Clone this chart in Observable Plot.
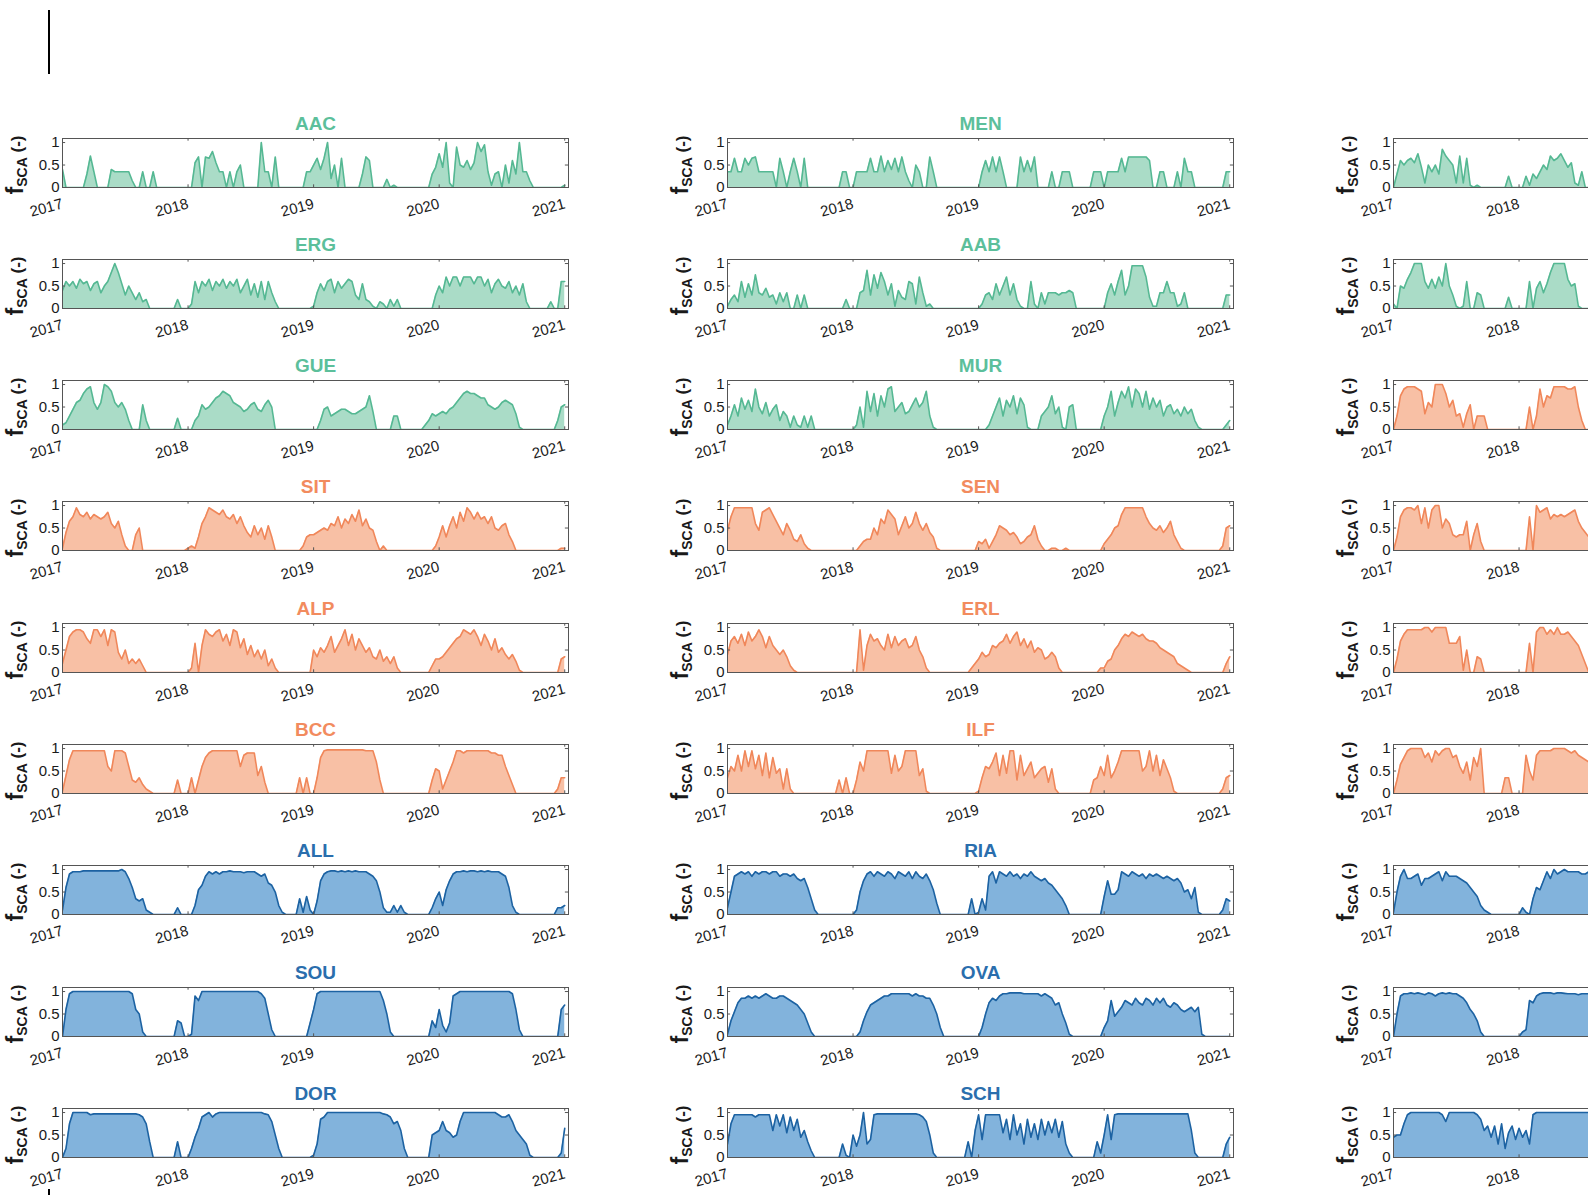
<!DOCTYPE html>
<html><head><meta charset="utf-8">
<script src="https://cdn.jsdelivr.net/npm/d3@7"></script>
<script src="https://cdn.jsdelivr.net/npm/@observablehq/plot@0.6"></script>
<style>
html,body{margin:0;padding:0;background:#fff;}
#root{position:relative;width:1588px;height:1195px;overflow:hidden;font-family:"Liberation Sans",Arial,Helvetica,sans-serif;}
.panel{position:absolute;width:588px;}
.ylab{position:absolute;transform:translate(-50%,-50%) rotate(-90deg);white-space:nowrap;font-weight:bold;color:#1a1a1a;font-size:17px;line-height:1;}
.ylab .f{font-size:23px;}
.ylab sub{font-size:14px;vertical-align:-4px;}
.deco{position:absolute;background:#000;width:2px;}
</style></head><body><div id="root"></div>
<script>
// ---- tick labels ----
const years = [2017, 2018, 2019, 2020, 2021];
const yTicks = [0, 0.5, 1];

// ---- fSCA series: one row per year (values ~every 10 days) ----
const AAC = [
 [0.4,0,0,0,0,0, 0,0.3,0.7,0.35,0,0, 0,0,0.4,0.35,0.35,0.35, 0.35,0.35,0.15,0,0,0.35, 0,0,0.35,0,0,0, 0,0,0,0,0,0],
 [0,0,0.55,0.68,0,0.68, 0.65,0.8,0.55,0.35,0.35,0, 0.35,0,0.35,0.5,0,0, 0,0,0,1.0,0.35,0.35, 0,0.68,0,0,0,0, 0,0,0,0,0.35,0.35],
 [0.5,0.65,0.4,0.65,1.0,0.2, 0.5,0,0.65,0,0,0, 0,0,0.3,0.68,0.6,0, 0,0,0,0.18,0,0.05, 0,0,0,0,0,0, 0,0,0,0,0.3,0.45],
 [0.75,0.45,1.0,0.1,0,0.9, 0.5,0.45,0.6,0.4,0.55,1.0, 0.8,0.95,0.35,0.05,0.3,0.35, 0,0.5,0.1,0.6,0.3,1.0, 0.35,0.35,0.15,0,0,0, 0,0,0,0,0,0],
 [0.05]];
const MEN = [
 [0.35,0.35,0.65,0.35,0.35,0.65, 0.5,0.65,0.68,0.35,0.35,0.35, 0.35,0.35,0,0.65,0.35,0, 0.35,0.65,0.35,0,0.65,0, 0,0,0,0,0,0, 0,0,0,0.35,0.35,0],
 [0,0.35,0.35,0.35,0.35,0.65, 0.35,0.35,0.7,0.35,0.6,0.4, 0.65,0.35,0.68,0.35,0.15,0, 0.5,0.35,0,0,0.68,0.35, 0,0,0,0,0,0, 0,0,0,0,0,0],
 [0,0.35,0.6,0.35,0.68,0.35, 0.68,0.35,0,0,0,0, 0.68,0.35,0.6,0.35,0.68,0, 0,0,0,0.35,0,0, 0.35,0.35,0.35,0,0,0, 0,0,0,0.35,0.35,0.35],
 [0,0.35,0.35,0.35,0.35,0.65, 0.35,0.68,0.68,0.68,0.68,0.68, 0.68,0.6,0,0,0.35,0.35, 0,0,0,0.35,0,0.65, 0.35,0.35,0,0,0,0, 0,0,0,0,0,0.35],
 [0.35]];
const ERG = [
 [0.4,0.6,0.5,0.6,0.45,0.65, 0.55,0.6,0.4,0.55,0.6,0.35, 0.5,0.6,0.8,1.0,0.8,0.55, 0.3,0.5,0.35,0.2,0.35,0.15, 0.2,0,0,0,0,0, 0,0,0,0.2,0,0],
 [0,0.1,0.6,0.35,0.6,0.5, 0.65,0.4,0.6,0.5,0.65,0.45, 0.6,0.5,0.65,0.35,0.5,0.65, 0.3,0.55,0.25,0.6,0.2,0.6, 0.35,0.15,0,0,0,0, 0,0,0,0,0,0],
 [0.05,0.35,0.55,0.4,0.6,0.65, 0.35,0.6,0.45,0.55,0.65,0.6, 0.3,0.2,0.55,0.2,0.15,0.05, 0,0.15,0.1,0,0.2,0.05, 0.2,0,0,0,0,0, 0,0,0,0,0,0.3],
 [0.5,0.35,0.7,0.5,0.7,0.7, 0.5,0.7,0.7,0.7,0.55,0.7, 0.7,0.5,0.65,0.35,0.55,0.65, 0.5,0.45,0.6,0.35,0.5,0.3, 0.55,0.15,0,0,0,0, 0,0,0.15,0,0,0.6],
 [0.6]];
const GUE = [
 [0.1,0.15,0.3,0.45,0.6,0.65, 0.8,0.9,0.95,0.6,0.45,0.6, 1.0,0.95,0.85,0.6,0.5,0.6, 0.45,0.2,0,0,0,0.55, 0.2,0,0,0,0,0, 0,0,0,0.25,0,0],
 [0,0,0.2,0.3,0.55,0.45, 0.5,0.6,0.7,0.75,0.85,0.8, 0.75,0.6,0.55,0.5,0.4,0.45, 0.55,0.6,0.45,0.4,0.55,0.65, 0.5,0,0,0,0,0, 0,0,0,0,0,0],
 [0,0,0.2,0.45,0.5,0.3, 0.35,0.4,0.45,0.45,0.4,0.35, 0.35,0.4,0.45,0.5,0.75,0.4, 0,0,0,0,0,0.3, 0.3,0,0,0,0,0, 0,0,0.1,0.2,0.35,0.3],
 [0.35,0.4,0.35,0.45,0.5,0.6, 0.7,0.8,0.85,0.8,0.8,0.75, 0.7,0.7,0.55,0.5,0.45,0.5, 0.6,0.65,0.6,0.55,0.35,0.05, 0,0,0,0,0,0, 0,0,0,0,0.2,0.5],
 [0.55]];
const SIT = [
 [0.05,0.4,0.65,0.75,0.95,0.8, 0.75,0.85,0.7,0.8,0.75,0.7, 0.75,0.85,0.6,0.5,0.65,0.35, 0.1,0,0,0.35,0.5,0, 0,0,0,0,0,0, 0,0,0,0,0,0],
 [0.05,0.1,0.05,0.3,0.6,0.75, 0.95,0.9,0.85,0.8,0.9,0.75, 0.7,0.8,0.6,0.75,0.55,0.4, 0.3,0.55,0.35,0.5,0.25,0.55, 0.3,0,0,0,0,0, 0,0,0,0.1,0.3,0.35],
 [0.35,0.4,0.45,0.5,0.45,0.6, 0.55,0.75,0.5,0.7,0.6,0.8, 0.65,0.9,0.55,0.7,0.5,0.45, 0.2,0,0.1,0,0,0, 0,0,0,0,0,0, 0,0,0,0,0,0.1],
 [0.3,0.55,0.3,0.55,0.75,0.5, 0.85,0.65,0.95,0.85,0.7,0.85, 0.7,0.75,0.6,0.75,0.5,0.45, 0.55,0.6,0.35,0.2,0,0, 0,0,0,0,0,0, 0,0,0,0,0,0.05],
 [0.05]];
const ALP = [
 [0.2,0.5,0.8,0.9,0.95,0.95, 0.9,0.75,0.65,0.95,0.95,0.8, 0.95,0.6,0.95,0.9,0.45,0.3, 0.5,0.2,0.3,0.2,0.3,0.15, 0,0,0,0,0,0, 0,0,0,0,0,0],
 [0,0.1,0.65,0,0.6,0.95, 0.85,0.8,0.9,0.95,0.7,0.85, 0.6,0.95,0.9,0.55,0.75,0.4, 0.6,0.35,0.5,0.3,0.5,0.15, 0.3,0.1,0,0,0,0, 0,0,0,0,0,0],
 [0.5,0.35,0.55,0.45,0.6,0.8, 0.45,0.6,0.75,0.95,0.6,0.85, 0.5,0.75,0.6,0.45,0.55,0.35, 0.3,0.5,0.25,0.35,0.2,0.35, 0.1,0,0,0,0,0, 0,0,0,0,0.15,0.3],
 [0.3,0.35,0.45,0.55,0.65,0.75, 0.8,0.95,0.9,0.85,0.95,0.8, 0.6,0.85,0.7,0.5,0.75,0.45, 0.55,0.4,0.3,0.4,0.25,0.05, 0,0,0,0,0,0, 0,0,0,0,0,0.3],
 [0.35]];
const BCC = [
 [0.05,0.4,0.75,0.95,0.95,0.95, 0.95,0.95,0.95,0.95,0.95,0.95, 0.95,0.6,0.5,0.95,0.95,0.95, 0.9,0.6,0.3,0.25,0.35,0.2, 0.1,0.05,0,0,0,0, 0,0,0,0.3,0,0],
 [0,0.35,0,0.3,0.6,0.8, 0.9,0.95,0.95,0.95,0.95,0.95, 0.95,0.95,0.95,0.6,0.85,0.9, 0.9,0.9,0.4,0.6,0.25,0, 0,0,0,0,0,0, 0,0,0.35,0,0.35,0],
 [0,0.35,0.8,0.95,0.97,0.97, 0.97,0.97,0.97,0.97,0.97,0.97, 0.97,0.97,0.97,0.95,0.95,0.95, 0.7,0.3,0,0,0,0, 0,0,0,0,0,0, 0,0,0,0,0.3,0.55],
 [0.5,0.1,0.3,0.5,0.7,0.95, 0.95,0.9,0.95,0.95,0.95,0.95, 0.95,0.95,0.95,0.9,0.9,0.85, 0.85,0.6,0.4,0.2,0,0, 0,0,0,0,0,0, 0,0,0,0,0.1,0.35],
 [0.35]];
const ALL = [
 [0.1,0.6,0.9,0.95,0.95,0.95, 0.97,0.97,0.97,0.97,0.97,0.97, 0.97,0.97,0.97,0.97,0.97,1, 0.95,0.8,0.6,0.35,0.3,0.35, 0.1,0.05,0,0,0,0, 0,0,0,0.15,0,0],
 [0,0,0.2,0.55,0.65,0.85, 0.95,0.9,0.95,0.9,0.95,0.95, 0.97,0.95,0.95,0.95,0.93,0.95, 0.95,0.95,0.9,0.85,0.9,0.7, 0.65,0.5,0.2,0.05,0,0, 0,0,0.35,0.05,0.4,0.1],
 [0,0.3,0.75,0.9,0.95,0.97, 0.97,0.95,0.97,0.95,0.97,0.95, 0.97,0.95,0.95,0.95,0.9,0.85, 0.75,0.5,0.15,0.05,0.05,0.2, 0.05,0.2,0.05,0,0,0, 0,0,0,0,0.15,0.35],
 [0.5,0.2,0.55,0.75,0.9,0.95, 0.95,0.97,0.95,0.97,0.97,0.95, 0.97,0.95,0.97,0.95,0.95,0.95, 0.9,0.85,0.6,0.2,0.05,0, 0,0,0,0,0,0, 0,0,0,0,0.15,0.15],
 [0.2]];
const SOU = [
 [0,0.6,0.95,1,1,1, 1,1,1,1,1,1, 1,1,1,1,1,1, 1,1,0.95,0.6,0.5,0.1, 0,0,0,0,0,0, 0,0,0,0.35,0.3,0],
 [0,0.05,0.9,0.8,1,1, 1,1,1,1,1,1, 1,1,1,1,1,1, 1,1,1,0.95,0.85,0.5, 0.15,0,0,0,0,0, 0,0,0,0,0,0.3],
 [0.6,0.95,1,1,1,1, 1,1,1,1,1,1, 1,1,1,1,1,1, 1,1,0.8,0.5,0.1,0, 0,0,0,0,0,0, 0,0,0,0,0.35,0.2],
 [0.6,0.25,0.1,0.3,0.9,0.95, 1,1,1,1,1,1, 1,1,1,1,1,1, 1,1,1,0.95,0.6,0.15, 0,0,0,0,0,0, 0,0,0,0,0,0.6],
 [0.7]];
const DOR = [
 [0,0.2,0.75,1,1,1, 1,1,0.95,0.97,0.97,0.97, 0.97,0.97,0.97,0.97,0.97,0.97, 0.97,0.97,0.97,0.97,0.95,0.9, 0.75,0.35,0,0,0,0, 0,0,0,0.35,0,0],
 [0,0.2,0.45,0.65,0.9,0.95, 1,0.9,0.97,1,1,1, 1,1,1,1,1,1, 1,1,1,1,0.97,0.95, 0.8,0.5,0.2,0,0,0, 0,0,0,0,0,0],
 [0.05,0.3,0.85,0.9,1,1, 1,1,1,1,1,1, 1,1,1,1,1,1, 1,1,0.97,0.95,0.9,0.75, 0.8,0.6,0.2,0,0,0, 0,0,0,0,0.5,0.55],
 [0.6,0.8,0.6,0.55,0.45,0.5, 0.8,1,1,1,1,1, 1,1,1,1,1,0.95, 0.9,0.9,0.95,0.8,0.6,0.5, 0.4,0.3,0.05,0,0,0, 0,0,0,0,0,0.1],
 [0.65]];
const AAB = [
 [0.05,0.2,0.3,0.15,0.6,0.25, 0.55,0.3,0.75,0.35,0.3,0.45, 0.25,0.3,0.1,0.35,0.15,0.35, 0,0,0.3,0,0.3,0, 0,0,0,0,0,0, 0,0,0,0,0.2,0],
 [0,0,0.35,0.4,0.85,0.3, 0.75,0.45,0.8,0.6,0.3,0.55, 0.05,0.4,0.25,0.2,0.6,0.55, 0.1,0.7,0.35,0.05,0.1,0, 0,0,0,0,0,0, 0,0,0,0,0,0],
 [0,0.1,0.3,0.35,0.2,0.55, 0.3,0.5,0.7,0.3,0.55,0.2, 0.05,0,0,0.6,0.1,0, 0.35,0.1,0.35,0.35,0.35,0.3, 0.35,0.35,0.4,0.35,0,0, 0,0,0,0,0,0],
 [0,0.35,0.55,0.3,0.6,0.85, 0.3,0.5,0.95,0.95,0.95,0.95, 0.7,0.25,0.05,0.05,0.35,0.35, 0.6,0.35,0.35,0.05,0.1,0.35, 0,0,0,0,0,0, 0,0,0,0,0,0.3],
 [0.3]];
const MUR = [
 [0.1,0.3,0.55,0.3,0.7,0.45, 0.65,0.4,0.9,0.5,0.35,0.6, 0.3,0.45,0.55,0.2,0.4,0.3, 0.05,0.3,0.1,0.05,0.3,0.05, 0.3,0,0,0,0,0, 0,0,0,0,0,0],
 [0,0.1,0.5,0.05,0.85,0.4, 0.8,0.3,0.75,0.5,0.9,0.95, 0.4,0.5,0.6,0.35,0.4,0.55, 0.7,0.5,0.6,0.85,0.3,0.05, 0,0,0,0,0,0, 0,0,0,0,0,0],
 [0,0,0,0.1,0.3,0.5, 0.7,0.3,0.65,0.5,0.75,0.35, 0.7,0.55,0.05,0,0,0, 0.3,0.4,0.5,0.75,0.35,0.5, 0.05,0,0.5,0.55,0,0, 0,0,0,0,0,0],
 [0.3,0.5,0.85,0.3,0.6,0.85, 0.7,0.95,0.5,0.9,0.8,0.5, 0.85,0.45,0.7,0.5,0.65,0.3, 0.5,0.55,0.35,0.45,0.3,0.5, 0.35,0.45,0.2,0.05,0,0, 0,0,0,0,0,0.1],
 [0.2]];
const SEN = [
 [0.45,0.75,0.95,0.95,0.95,0.95, 0.95,0.95,0.6,0.45,0.85,0.9, 0.95,0.8,0.65,0.5,0.35,0.6, 0.45,0.25,0.2,0.35,0.15,0.05, 0,0,0,0,0,0, 0,0,0,0,0,0],
 [0,0,0.1,0.2,0.25,0.25, 0.5,0.35,0.7,0.6,0.9,0.8, 0.7,0.35,0.55,0.75,0.5,0.6, 0.85,0.6,0.45,0.6,0.4,0.3, 0.05,0,0,0,0,0, 0,0,0,0,0,0],
 [0.2,0.15,0.25,0.05,0.2,0.35, 0.55,0.5,0.45,0.35,0.4,0.3, 0.15,0.2,0.3,0.35,0.55,0.25, 0.1,0,0,0.05,0.05,0, 0,0.05,0,0,0,0, 0,0,0,0,0,0],
 [0.15,0.25,0.35,0.5,0.55,0.8, 0.95,0.95,0.95,0.95,0.95,0.95, 0.75,0.6,0.5,0.45,0.55,0.4, 0.5,0.65,0.35,0.2,0.05,0, 0,0,0,0,0,0, 0,0,0,0,0.1,0.5],
 [0.55]];
const ERL = [
 [0.4,0.7,0.8,0.65,0.85,0.6, 0.9,0.7,0.8,0.95,0.8,0.55, 0.8,0.6,0.5,0.4,0.5,0.35, 0.15,0.05,0,0,0,0, 0,0,0,0,0,0, 0,0,0,0,0,0],
 [0,0,0.95,0.05,0.6,0.85, 0.7,0.75,0.6,0.5,0.85,0.55, 0.8,0.6,0.7,0.75,0.55,0.6, 0.8,0.5,0.35,0.1,0,0, 0,0,0,0,0,0, 0,0,0,0,0.1,0.2],
 [0.3,0.45,0.35,0.4,0.6,0.55, 0.65,0.7,0.85,0.65,0.8,0.9, 0.6,0.75,0.55,0.7,0.45,0.55, 0.5,0.3,0.35,0.45,0.35,0.1, 0,0,0,0,0,0, 0,0,0,0,0,0.1],
 [0.1,0.25,0.3,0.5,0.6,0.75, 0.85,0.8,0.9,0.85,0.8,0.85, 0.75,0.7,0.7,0.65,0.55,0.5, 0.45,0.4,0.35,0.2,0.15,0.1, 0.05,0,0,0,0,0, 0,0,0,0,0,0.2],
 [0.35]];
const ILF = [
 [0.35,0.6,0.5,0.85,0.5,0.95, 0.6,0.95,0.55,0.85,0.4,0.9, 0.35,0.8,0.45,0.55,0.1,0.55, 0.1,0,0,0,0,0, 0,0,0,0,0,0, 0,0,0.3,0,0.35,0],
 [0,0.3,0.7,0.5,0.95,0.95, 0.95,0.95,0.95,0.95,0.95,0.45, 0.85,0.5,0.6,0.95,0.95,0.95, 0.95,0.4,0.55,0.05,0,0, 0,0,0,0,0,0, 0,0,0,0,0,0],
 [0.05,0.35,0.6,0.55,0.7,0.9, 0.4,0.85,0.45,0.95,0.95,0.3, 0.85,0.4,0.55,0.7,0.35,0.45, 0.55,0.6,0.25,0.55,0.1,0, 0,0,0,0,0,0, 0,0,0,0.3,0.35,0.6],
 [0.4,0.85,0.35,0.5,0.7,0.95, 0.95,0.95,0.95,0.95,0.95,0.5, 0.6,0.95,0.5,0.85,0.4,0.75, 0.55,0.35,0.05,0,0,0, 0,0,0,0,0,0, 0,0,0,0,0.1,0.35],
 [0.4]];
const RIA = [
 [0.15,0.5,0.85,0.9,0.95,0.9, 0.95,0.85,0.95,0.9,0.95,0.95, 0.9,0.95,0.95,0.85,0.9,0.9, 0.85,0.9,0.8,0.75,0.8,0.6, 0.35,0.1,0,0,0,0, 0,0,0,0,0,0],
 [0,0.1,0.5,0.75,0.9,0.95, 0.85,0.95,0.9,0.85,0.95,0.9, 0.8,0.95,0.9,0.85,0.95,0.8, 0.95,0.85,0.8,0.9,0.75,0.55, 0.25,0,0,0,0,0, 0,0,0,0,0.35,0],
 [0.05,0.35,0.1,0.85,0.95,0.7, 0.95,0.9,0.85,0.95,0.85,0.9, 0.8,0.9,0.85,0.95,0.85,0.8, 0.75,0.8,0.7,0.65,0.55,0.45, 0.35,0.2,0,0,0,0, 0,0,0,0,0,0],
 [0.4,0.75,0.45,0.45,0.55,0.95, 0.9,0.85,0.95,0.9,0.85,0.9, 0.8,0.9,0.85,0.9,0.85,0.8, 0.85,0.8,0.75,0.8,0.7,0.5, 0.55,0.35,0.6,0.05,0,0, 0,0,0,0,0.1,0.35],
 [0.3]];
const OVA = [
 [0.05,0.35,0.55,0.75,0.85,0.85, 0.9,0.85,0.9,0.85,0.9,0.95, 0.9,0.85,0.85,0.9,0.9,0.85, 0.8,0.75,0.7,0.6,0.5,0.3, 0.1,0,0,0,0,0, 0,0,0,0,0,0],
 [0,0,0.1,0.35,0.55,0.7, 0.75,0.8,0.85,0.9,0.9,0.95, 0.95,0.95,0.95,0.95,0.95,0.9, 0.95,0.9,0.9,0.85,0.85,0.7, 0.5,0.2,0,0,0,0, 0,0,0,0,0,0],
 [0,0.2,0.5,0.75,0.85,0.8, 0.9,0.95,0.95,0.97,0.97,0.97, 0.97,0.95,0.95,0.95,0.95,0.95, 0.9,0.95,0.9,0.85,0.7,0.75, 0.5,0.3,0.05,0,0,0, 0,0,0,0,0,0],
 [0.2,0.35,0.8,0.45,0.55,0.65, 0.8,0.75,0.7,0.85,0.75,0.7, 0.85,0.8,0.7,0.85,0.75,0.85, 0.7,0.65,0.75,0.7,0.6,0.55, 0.6,0.65,0.55,0.65,0.05,0, 0,0,0,0,0,0],
 [0]];
const SCH = [
 [0.3,0.75,0.95,0.95,0.95,0.95, 0.95,0.95,0.9,0.95,0.95,0.95, 0.95,0.6,0.95,0.7,0.95,0.55, 0.9,0.6,0.85,0.45,0.6,0.35, 0.15,0,0,0,0,0, 0,0,0,0.3,0.05,0],
 [0.5,0.25,0.5,1.0,0.3,0.4, 0.95,0.97,0.97,0.97,0.97,0.97, 0.97,0.97,0.97,0.97,0.97,0.97, 0.97,0.95,0.9,0.8,0.5,0.1, 0,0,0,0,0,0, 0,0,0,0.35,0,0.6],
 [0.95,0.4,0.95,0.95,0.95,0.95, 0.95,0.55,0.85,0.4,0.95,0.5, 0.75,0.3,0.85,0.45,0.75,0.4, 0.85,0.5,0.8,0.55,0.85,0.45, 0.8,0.3,0.1,0,0,0, 0,0,0,0,0.35,0.1],
 [0.5,0.95,0.4,0.95,0.97,0.97, 0.97,0.97,0.97,0.97,0.97,0.97, 0.97,0.97,0.97,0.97,0.97,0.97, 0.97,0.97,0.97,0.97,0.97,0.97, 0.97,0.6,0.1,0,0,0, 0,0,0,0,0,0.3],
 [0.45]];
// third column (only 2017 to mid-2018 visible)
const C3R1 = [
 [0,0.3,0.6,0.5,0.6,0.65, 0.55,0.75,0.45,0.1,0.5,0.35, 0.5,0.3,0.85,0.7,0.6,0.5, 0.1,0.7,0.1,0.65,0.05,0, 0.05,0,0,0,0,0, 0,0,0,0.25,0,0],
 [0,0,0.25,0.05,0.3,0.2, 0.35,0.5,0.4,0.7,0.6,0.65, 0.75,0.6,0.45,0.55,0.1,0.05, 0.35,0,0,0,0]];
const C3R2 = [
 [0.1,0,0.5,0.45,0.65,0.8, 1,1,1,0.6,0.45,0.65, 0.45,0.7,0.5,1.0,0.5,0.3, 0.05,0,0.05,0.6,0,0, 0.35,0.3,0,0,0,0, 0,0,0,0.25,0,0],
 [0,0,0,0.6,0,0.45, 0.6,0.35,0.55,0.8,1,1, 1,1,0.65,0.5,0.55,0.05, 0,0,0,0,0]];
const C3R3 = [
 [0,0.3,0.75,0.9,0.95,0.95, 0.95,0.9,0.85,0.35,0.6,0.5, 1,1,1,0.8,0.5,0.65, 0.3,0.35,0.05,0.35,0.55,0, 0.3,0.3,0.3,0,0,0, 0,0,0,0,0,0],
 [0,0,0,0.5,0,0.3, 0.9,0.5,0.75,0.7,0.95,0.95, 0.95,0.95,0.9,0.9,0.95,0.5, 0.2,0,0,0,0]];
const C3R4 = [
 [0,0.3,0.75,0.9,0.95,0.95, 0.9,1,0.6,0.95,0.5,0.9, 1,1,0.5,0.7,0.6,0.35, 0.3,0.35,0.35,0.65,0,0.35, 0.6,0.2,0,0,0,0, 0,0,0,0,0,0],
 [0,0,0,0.75,0,1, 0.85,0.9,0.95,0.7,0.8,0.75, 0.8,0.75,0.8,0.85,0.9,0.65, 0.5,0.4,0.3,0.2,0.1]];
const C3R5 = [
 [0,0.3,0.7,0.85,0.95,0.95, 0.95,0.95,0.95,1,1,0.9, 1,1,1,1,0.65,0.65, 0.65,0.8,0.05,0.5,0,0, 0.35,0.3,0,0,0,0, 0,0,0,0,0,0],
 [0,0,0,0.65,0,0.9, 1,1,0.85,0.95,0.85,1, 0.85,0.85,0.9,0.8,0.7,0.6, 0.4,0.2,0,0,0]];
const C3R6 = [
 [0,0.3,0.65,0.8,0.95,1, 1,1,1,0.8,0.9,0.7, 0.95,0.85,0.95,1,1,0.8, 0.85,0.6,0.45,0.7,0.3,0.8, 0.6,1,0,0,0,0, 0,0,0.35,0.35,0,0],
 [0,0,0.85,0.5,0.3,0.85, 0.95,0.95,0.95,0.95,1,1, 1,1,0.95,0.9,0.95,0.85, 0.8,0.75,0.7,0.6,0.5]];
const C3R7 = [
 [0.05,0.5,0.85,1,0.8,0.8, 0.85,0.9,0.65,0.8,0.8,0.85, 0.9,0.95,0.75,0.95,0.85,0.85, 0.85,0.8,0.75,0.7,0.6,0.5, 0.4,0.2,0.1,0.05,0,0, 0,0,0,0,0,0],
 [0,0.15,0.05,0,0.35,0.6, 0.55,0.75,0.95,0.8,1,0.9, 0.95,1,0.95,0.95,0.95,0.95, 0.9,0.9,0.95,0.95,0.9]];
const C3R8 = [
 [0,0.5,0.9,0.95,0.95,0.97, 0.95,0.97,0.95,0.93,0.97,0.95, 0.9,0.95,0.97,0.95,0.97,0.95, 0.95,0.9,0.85,0.75,0.6,0.5, 0.35,0.1,0,0,0,0, 0,0,0,0,0,0],
 [0,0.1,0.15,0.8,0.75,0.9, 0.95,0.97,0.97,0.97,0.95,0.97, 0.97,0.96,0.95,0.95,0.95,0.93, 0.95,0.95,0.95,0.95,0.95]];
const C3R9 = [
 [0.45,0.5,0.5,0.75,0.95,1, 1,1,1,1,1,1, 1,1,0.95,0.8,1,1, 1,1,1,1,1,1, 0.95,0.85,0.6,0.7,0.45,0.7, 0.3,0.75,0.2,0.55,0.7,0.4],
 [0.65,0.45,0.6,0.3,0.95,1, 1,1,1,1,1,1, 1,1,1,1,1,1, 1,1,1,1,1]];

// ---- panels: [series, title, colour group, column, row] ----
const panels = [
 [AAC,"AAC","g",0,0],[MEN,"MEN","g",1,0],[C3R1,null,"g",2,0],
 [ERG,"ERG","g",0,1],[AAB,"AAB","g",1,1],[C3R2,null,"g",2,1],
 [GUE,"GUE","g",0,2],[MUR,"MUR","g",1,2],[C3R3,null,"o",2,2],
 [SIT,"SIT","o",0,3],[SEN,"SEN","o",1,3],[C3R4,null,"o",2,3],
 [ALP,"ALP","o",0,4],[ERL,"ERL","o",1,4],[C3R5,null,"o",2,4],
 [BCC,"BCC","o",0,5],[ILF,"ILF","o",1,5],[C3R6,null,"o",2,5],
 [ALL,"ALL","b",0,6],[RIA,"RIA","b",1,6],[C3R7,null,"b",2,6],
 [SOU,"SOU","b",0,7],[OVA,"OVA","b",1,7],[C3R8,null,"b",2,7],
 [DOR,"DOR","b",0,8],[SCH,"SCH","b",1,8],[C3R9,null,"b",2,8]
];

const palette = {
  g: {line: "#55b893", fill: "#aadcc7", title: "#5cbf9b"},
  o: {line: "#f0875a", fill: "#f8c0a5", title: "#f28b5e"},
  b: {line: "#1c62a2", fill: "#82b3dc", title: "#2a6ead"}
};

const colFrameX = [62, 727, 1393];
const frameY0 = 137.5, rowStep = 121.3;
const mL = 62, mR = 20, mT = 30, mB = 42, frameW = 506, frameH = 49;
const xMax = 2021.03, yMax = 1.09;
const font = '"Liberation Sans", Arial, Helvetica, sans-serif';
const axisColor = "#555555";

function toPoints(rows) {
  const pts = [];
  rows.forEach((vals, k) => {
    const n = vals.length >= 30 ? vals.length : 36;
    vals.forEach((v, j) => pts.push({x: years[k] + j / n, y: v}));
  });
  return pts;
}

const root = document.getElementById("root");
for (const [series, title, grp, col, row] of panels) {
  const c = palette[grp];
  const pts = toPoints(series);
  const fx = colFrameX[col], fy = frameY0 + row * rowStep;
  // third column is cut by the picture's right edge: only its first two year labels are in view
  const labelYears = col === 2 ? years.slice(0, 2) : years;
  const chart = Plot.plot({
    width: mL + frameW + mR, height: mT + frameH + mB,
    marginLeft: mL, marginRight: mR, marginTop: mT, marginBottom: mB,
    x: {domain: [2017, xMax], label: null},
    y: {domain: [0, yMax], label: null},
    style: {fontFamily: font, fontSize: "15px", color: "#1a1a1a", background: "transparent", overflow: "visible", maxWidth: "none"},
    marks: [
      Plot.areaY(pts, {x: "x", y: "y", fill: c.fill, clip: true}),
      Plot.lineY(pts, {x: "x", y: "y", stroke: c.line, strokeWidth: 1.6, clip: true}),
      Plot.frame({stroke: axisColor, strokeWidth: 1}),
      Plot.ruleX(years, {y1: 0, y2: 0.06, stroke: axisColor}),
      Plot.ruleX(years, {y1: yMax - 0.06, y2: yMax, stroke: axisColor}),
      Plot.ruleY(yTicks, {x1: 2017, x2: 2017.025, stroke: axisColor}),
      Plot.ruleY(yTicks, {x1: xMax - 0.025, x2: xMax, stroke: axisColor}),
      Plot.axisY({ticks: yTicks, tickSize: 0, tickPadding: 3, tickFormat: d => String(d), fontSize: 15, label: null}),
      Plot.axisX({ticks: labelYears, tickSize: 0, tickPadding: 16, tickRotate: -15, tickFormat: d => String(d), fontSize: 15, label: null}),
      title ? Plot.text([title], {text: d => d, frameAnchor: "top", dy: -22, fontSize: 19, fontWeight: "bold", fill: c.title}) : null
    ]
  });
  const div = document.createElement("div");
  div.className = "panel";
  div.style.left = (fx - mL) + "px";
  div.style.top = (fy - mT) + "px";
  div.appendChild(chart);
  root.appendChild(div);

  const lab = document.createElement("div");
  lab.className = "ylab";
  lab.innerHTML = '<span class="f">f</span><sub>SCA</sub> (-)';
  lab.style.left = (fx - 46) + "px";
  lab.style.top = (fy + 27) + "px";
  root.appendChild(lab);
}

// decorative marks present in the source image
const d1 = document.createElement("div");
d1.className = "deco"; d1.style.left = "48px"; d1.style.top = "10px"; d1.style.height = "64px";
root.appendChild(d1);
const d2 = document.createElement("div");
d2.className = "deco"; d2.style.left = "48px"; d2.style.top = "1189px"; d2.style.height = "6px";
root.appendChild(d2);
</script>
</body></html>
